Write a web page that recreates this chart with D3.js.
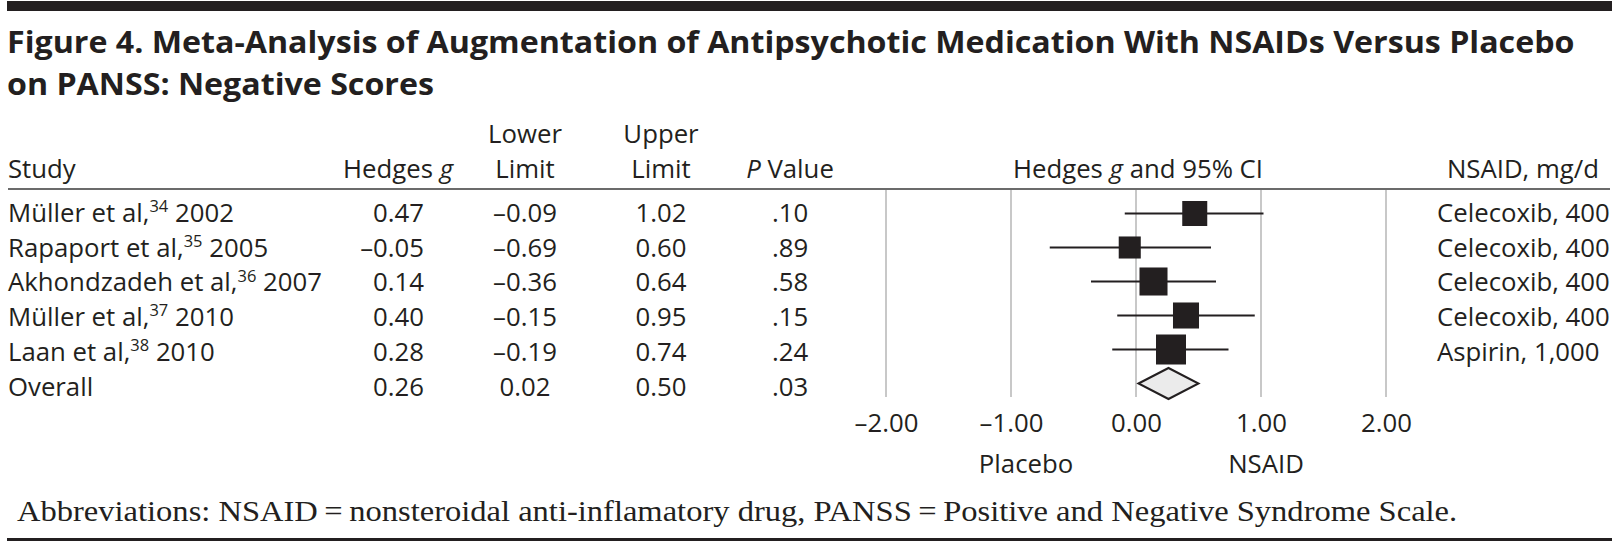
<!DOCTYPE html>
<html><head><meta charset="utf-8">
<script src="https://cdn.jsdelivr.net/npm/d3@7"></script>
<style>body{margin:0;background:#fff} svg{display:block}</style>
</head><body>
<svg id="c" width="1620" height="541"></svg>
<script>
// ---- data ----
const studies = ["Müller et al,", "Rapaport et al,", "Akhondzadeh et al,", "Müller et al,", "Laan et al,", "Overall"];
const refs    = ["34", "35", "36", "37", "38", ""];
const years   = ["2002", "2005", "2007", "2010", "2010", ""];
const hedgesG = [0.47, -0.05, 0.14, 0.40, 0.28, 0.26];
const lowerLimit = [-0.09, -0.69, -0.36, -0.15, -0.19, 0.02];
const upperLimit = [1.02, 0.60, 0.64, 0.95, 0.74, 0.50];
const pValues = [".10", ".89", ".58", ".15", ".24", ".03"];
const nsaidDose = ["Celecoxib, 400", "Celecoxib, 400", "Celecoxib, 400", "Celecoxib, 400", "Aspirin, 1,000", ""];
const weights = [18.0, 14.0, 22.6, 19.5, 25.9]; // relative study weight (%)
const axisTicks = [-2, -1, 0, 1, 2];
const titleLines = ["Figure 4. Meta-Analysis of Augmentation of Antipsychotic Medication With NSAIDs Versus Placebo",
                    "on PANSS: Negative Scores"];
const footnote = "Abbreviations: NSAID\u2009=\u2009nonsteroidal anti-inflamatory drug, PANSS\u2009=\u2009Positive and Negative Syndrome Scale.";

// ---- setup ----
const svg = d3.select("#c");
const ink = "#231f20";
const SANS = "'Open Sans', 'Noto Sans', sans-serif";
const SERIF = "'Liberation Serif', 'DejaVu Serif', serif";
const dash = v => (v < 0 ? "\u2013" : "") + Math.abs(v).toFixed(2);

function measure(s, family, weight, size) {
  const t = svg.append("text").attr("font-family", family).attr("font-weight", weight).attr("font-size", size).text(s);
  const w = t.node().getComputedTextLength();
  t.remove();
  return w;
}
function fitSize(strings, targets, family, weight) {
  let m = 0, tt = 0;
  strings.forEach((s, i) => { m += measure(s, family, weight, 100); tt += targets[i]; });
  return 100 * tt / m;
}
const fs = fitSize(["Celecoxib, 400", "Hedges g and 95% CI", "Placebo"], [171, 253, 94], SANS, 400);
const cap = 0.714 * fs;

// title: size chosen for cap height, compressed horizontally to the measured width
const tfs = 29.5;
const tsx = 1568 / measure(titleLines[0], SANS, 700, tfs);
// footnote
const ffs = 30;
const fsx = 1441 / measure(footnote, SERIF, 400, ffs);

// bars
svg.append("rect").attr("x", 7).attr("y", 1).attr("width", 1605).attr("height", 10).attr("fill", ink);
svg.append("rect").attr("x", 7).attr("y", 538).attr("width", 1605).attr("height", 3).attr("fill", ink);

// title
svg.selectAll("text.title").data(titleLines).join("text").attr("class", "title")
  .attr("transform", (d, i) => `translate(7,${53 + i * 42}) scale(${tsx},1)`)
  .attr("font-family", SANS).attr("font-weight", 700).attr("font-size", tfs).attr("fill", ink).text(d => d);

// header
const hdr = svg.append("g").attr("font-family", SANS).attr("font-size", fs).attr("fill", ink);
hdr.append("text").attr("x", 8).attr("y", 178).text("Study");
const hg = hdr.append("text").attr("x", 453).attr("y", 178).attr("text-anchor", "end");
hg.append("tspan").text("Hedges ");
hg.append("tspan").attr("font-style", "italic").text("g");
[["Lower", 525], ["Upper", 661]].forEach(([w, x]) => {
  hdr.append("text").attr("x", x).attr("y", 143).attr("text-anchor", "middle").text(w);
  hdr.append("text").attr("x", x).attr("y", 178).attr("text-anchor", "middle").text("Limit");
});
const pv = hdr.append("text").attr("x", 790).attr("y", 178).attr("text-anchor", "middle");
pv.append("tspan").attr("font-style", "italic").text("P");
pv.append("tspan").text(" Value");
const fh = hdr.append("text").attr("x", 1138).attr("y", 178).attr("text-anchor", "middle");
fh.append("tspan").text("Hedges ");
fh.append("tspan").attr("font-style", "italic").text("g");
fh.append("tspan").text(" and 95% CI");
hdr.append("text").attr("x", 1599).attr("y", 178).attr("text-anchor", "end").text("NSAID, mg/d");

svg.append("line").attr("x1", 8).attr("x2", 1610).attr("y1", 189).attr("y2", 189)
  .attr("stroke", "#3a3a3a").attr("stroke-width", 1.6);

// scales
const idx = d3.range(studies.length);
const yText = d3.scalePoint().domain(idx).range([212.6, 386.5]);
const y = d3.scalePoint().domain(idx).range([213.5, 383.5]);
const x = d3.scaleLinear().domain([-2, 2]).range([886, 1386]);
const side = d3.scaleSqrt().domain([0, d3.max(weights)]).range([0, 30]);

// gridlines
svg.append("g").selectAll("line").data(axisTicks).join("line")
  .attr("x1", d => x(d)).attr("x2", d => x(d)).attr("y1", 190).attr("y2", 397)
  .attr("stroke", "#c8c8c8").attr("stroke-width", 2);

// table rows
const rows = svg.append("g").attr("font-family", SANS).attr("font-size", fs).attr("fill", ink);
idx.forEach(i => {
  const by = yText(i) + cap / 2;
  const t = rows.append("text").attr("x", 8).attr("y", by);
  t.append("tspan").text(studies[i]);
  if (refs[i]) {
    t.append("tspan").attr("font-size", fs * 0.64).attr("dy", -0.38 * fs).text(refs[i]);
    t.append("tspan").attr("dy", 0.38 * fs).text("\u00a0" + years[i]);
  }
  rows.append("text").attr("x", 424).attr("y", by).attr("text-anchor", "end").text(dash(hedgesG[i]));
  rows.append("text").attr("x", 525).attr("y", by).attr("text-anchor", "middle").text(dash(lowerLimit[i]));
  rows.append("text").attr("x", 661).attr("y", by).attr("text-anchor", "middle").text(dash(upperLimit[i]));
  rows.append("text").attr("x", 790).attr("y", by).attr("text-anchor", "middle").text(pValues[i]);
  if (nsaidDose[i]) rows.append("text").attr("x", 1437).attr("y", by).text(nsaidDose[i]);
});

// forest marks
const studyIdx = idx.slice(0, 5);
const marks = svg.append("g");
marks.selectAll("line.ci").data(studyIdx).join("line").attr("class", "ci")
  .attr("x1", i => x(lowerLimit[i])).attr("x2", i => x(upperLimit[i]))
  .attr("y1", i => y(i)).attr("y2", i => y(i)).attr("stroke", ink).attr("stroke-width", 2);
marks.selectAll("rect.box").data(studyIdx).join("rect").attr("class", "box")
  .attr("x", i => x(hedgesG[i]) - side(weights[i]) / 2).attr("y", i => y(i) - side(weights[i]) / 2)
  .attr("width", i => side(weights[i])).attr("height", i => side(weights[i])).attr("fill", ink);
const o = 5, oy = y(o), hh = 15.5;
marks.append("polygon")
  .attr("points", [[x(lowerLimit[o]), oy], [x(hedgesG[o]), oy - hh], [x(upperLimit[o]), oy], [x(hedgesG[o]), oy + hh]].map(p => p.join(",")).join(" "))
  .attr("fill", "#ebebeb").attr("stroke", ink).attr("stroke-width", 2).attr("stroke-linejoin", "miter");

// axis
const ax = svg.append("g").attr("transform", `translate(0,${432 - 0.71 * fs})`)
  .call(d3.axisBottom(x).tickValues(axisTicks).tickSize(0).tickPadding(0).tickFormat(dash));
ax.select(".domain").remove();
ax.selectAll("text").attr("font-family", SANS).attr("font-size", fs).attr("fill", ink);

// direction labels
const dl = svg.append("g").attr("font-family", SANS).attr("font-size", fs).attr("fill", ink).attr("text-anchor", "middle");
dl.append("text").attr("x", x(-0.88)).attr("y", 473).text("Placebo");
dl.append("text").attr("x", x(1.04)).attr("y", 473).text("NSAID");

// footnote
svg.append("text").attr("transform", `translate(17,521) scale(${fsx},1)`)
  .attr("font-family", SERIF).attr("font-size", ffs).attr("fill", ink).text(footnote);
</script>
</body></html>
